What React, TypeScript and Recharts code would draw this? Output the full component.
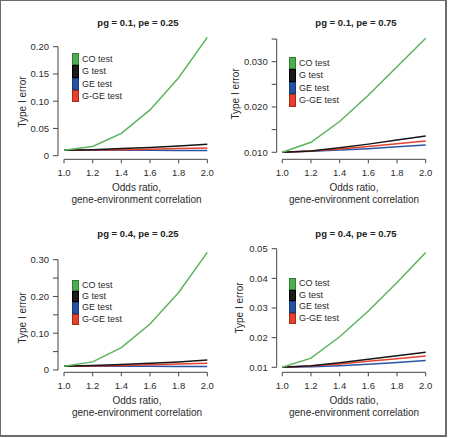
import { LineChart, Line, XAxis, YAxis, ReferenceLine, Legend } from 'recharts'

// Odds ratio / gene-environment correlation on the x axis
const ODDS = [1.0, 1.2, 1.4, 1.6, 1.8, 2.0]
const X_TICK_LABELS = ['1.0', '1.2', '1.4', '1.6', '1.8', '2.0']

// pg = 0.1, pe = 0.25
const CO_1 = [0.010, 0.017, 0.041, 0.084, 0.143, 0.217]
const G_1 = [0.010, 0.011, 0.013, 0.015, 0.018, 0.021]
const GE_1 = [0.010, 0.010, 0.010, 0.0098, 0.0096, 0.0095]
const GGE_1 = [0.010, 0.0105, 0.011, 0.012, 0.0133, 0.0143]
const Y_TICKS_1 = [0, 0.05, 0.1, 0.15, 0.2]
const Y_LABELS_1 = ['0', '0.05', '0.10', '0.15', '0.20']

// pg = 0.1, pe = 0.75
const CO_2 = [0.010, 0.0122, 0.0168, 0.0226, 0.0289, 0.0352]
const G_2 = [0.010, 0.0103, 0.0110, 0.0118, 0.0127, 0.0136]
const GE_2 = [0.010, 0.0102, 0.0105, 0.0108, 0.0112, 0.0116]
const GGE_2 = [0.010, 0.0103, 0.0107, 0.0113, 0.0119, 0.0125]
const Y_TICKS_2 = [0.01, 0.015, 0.02, 0.025, 0.03, 0.035]
const Y_LABELS_2 = ['0.010', '', '0.020', '', '0.030', '']

// pg = 0.4, pe = 0.25
const CO_3 = [0.010, 0.022, 0.061, 0.125, 0.211, 0.320]
const G_3 = [0.010, 0.012, 0.015, 0.018, 0.022, 0.027]
const GE_3 = [0.010, 0.010, 0.010, 0.010, 0.0098, 0.0097]
const GGE_3 = [0.010, 0.011, 0.012, 0.014, 0.016, 0.018]
const Y_TICKS_3 = [0, 0.05, 0.1, 0.15, 0.2, 0.25, 0.3]
const Y_LABELS_3 = ['0', '', '0.10', '', '0.20', '', '0.30']

// pg = 0.4, pe = 0.75
const CO_4 = [0.010, 0.0131, 0.0203, 0.0290, 0.0386, 0.0487]
const G_4 = [0.010, 0.0105, 0.0115, 0.0127, 0.0139, 0.0151]
const GE_4 = [0.010, 0.0102, 0.0105, 0.0110, 0.0116, 0.0123]
const GGE_4 = [0.010, 0.0104, 0.0111, 0.0120, 0.0129, 0.0138]
const Y_TICKS_4 = [0.01, 0.02, 0.03, 0.04, 0.05]
const Y_LABELS_4 = ['0.01', '0.02', '0.03', '0.04', '0.05']

const SERIES = [
  { key: 'co', name: 'CO test', color: '#5bb45e', box: '#4cae4f', edge: '#2e7d32' },
  { key: 'g', name: 'G test', color: '#161616', box: '#1b1b1b', edge: '#000000' },
  { key: 'ge', name: 'GE test', color: '#2a55a5', box: '#2452a0', edge: '#173a7a' },
  { key: 'gge', name: 'G-GE test', color: '#e4432f', box: '#e8402a', edge: '#a52a1a' },
]
// blue under red under black under green
const DRAW_ORDER = ['ge', 'gge', 'g', 'co']

const AXIS = '#454545'
const TEXT = '#2b2b2b'

const PANELS = [
  {
    title: 'pg = 0.1, pe = 0.25', co: CO_1, g: G_1, ge: GE_1, gge: GGE_1,
    yTicks: Y_TICKS_1, yLabels: Y_LABELS_1,
    left: 0, top: 0, width: 225, plotLeft: 58, plotRight: 207.3, xMin: 0.958,
    plotTop: 35.8, plotBottom: 159.3, yMin: -0.0066, yMax: 0.22,
    titleX: 138, titleY: 23, ylabX: 21.7, ylabY: 102, xlabX: 136.5,
    legendX: 72, legendY: 53, rowH: 12.3,
  },
  {
    title: 'pg = 0.1, pe = 0.75', co: CO_2, g: G_2, ge: GE_2, gge: GGE_2,
    yTicks: Y_TICKS_2, yLabels: Y_LABELS_2,
    left: 225, top: 0, width: 224, plotLeft: 51.7, plotRight: 200.7, xMin: 0.961,
    plotTop: 36.8, plotBottom: 159.3, yMin: 0.00845, yMax: 0.0355,
    titleX: 131, titleY: 23, ylabX: 10, ylabY: 93.5, xlabX: 129,
    legendX: 64, legendY: 57, rowH: 12.4,
  },
  {
    title: 'pg = 0.4, pe = 0.25', co: CO_3, g: G_3, ge: GE_3, gge: GGE_3,
    yTicks: Y_TICKS_3, yLabels: Y_LABELS_3,
    left: 0, top: 218, width: 225, plotLeft: 58, plotRight: 207.3, xMin: 0.958,
    plotTop: 32.5, plotBottom: 154.3, yMin: -0.0063, yMax: 0.325,
    titleX: 138, titleY: 15.7, ylabX: 21.7, ylabY: 100, xlabX: 137,
    legendX: 72, legendY: 61.7, rowH: 11.3,
  },
  {
    title: 'pg = 0.4, pe = 0.75', co: CO_4, g: G_4, ge: GE_4, gge: GGE_4,
    yTicks: Y_TICKS_4, yLabels: Y_LABELS_4,
    left: 225, top: 218, width: 224, plotLeft: 51.7, plotRight: 200.7, xMin: 0.961,
    plotTop: 30.7, plotBottom: 154.3, yMin: 0.00831, yMax: 0.05,
    titleX: 131, titleY: 15.7, ylabX: 13.5, ylabY: 90, xlabX: 129,
    legendX: 64, legendY: 60, rowH: 11.5,
  },
]

type Panel = (typeof PANELS)[number]

function LegendBox({ payload, rowH }: { payload?: any[]; rowH: number }) {
  const items = SERIES.filter(s => (payload ?? []).some(p => p.value === s.name))
  return (
    <div style={{ fontSize: 9, color: TEXT, lineHeight: `${rowH}px` }}>
      {items.map(s => (
        <div key={s.key} style={{ display: 'flex', alignItems: 'center', height: rowH }}>
          <span
            style={{
              display: 'inline-block',
              width: 7,
              height: rowH,
              boxSizing: 'border-box',
              background: s.box,
              border: `1px solid ${s.edge}`,
            }}
          />
          <span style={{ marginLeft: 3, whiteSpace: 'nowrap' }}>{s.name}</span>
        </div>
      ))}
    </div>
  )
}

function ErrorPanel({ p }: { p: Panel }) {
  const data = ODDS.map((x, i) => ({ x, co: p.co[i], g: p.g[i], ge: p.ge[i], gge: p.gge[i] }))
  const height = 218
  const yTop = p.yTicks[p.yTicks.length - 1]
  const tickStyle = { fill: TEXT, fontSize: 9.5 }

  return (
    <div style={{ position: 'absolute', left: p.left, top: p.top, width: p.width, height }}>
      <div
        style={{
          position: 'absolute', left: p.titleX - 80, top: p.titleY - 6, width: 160,
          textAlign: 'center', fontSize: 9.5, fontWeight: 700, lineHeight: '12px', color: '#222',
        }}
      >
        {p.title}
      </div>
      <div
        style={{
          position: 'absolute', left: p.ylabX, top: p.ylabY, fontSize: 10, color: TEXT,
          whiteSpace: 'nowrap', transform: 'translate(-50%, -50%) rotate(-90deg)',
        }}
      >
        Type I error
      </div>
      <div
        style={{
          position: 'absolute', left: p.xlabX - 80, top: p.plotBottom + 22.5, width: 160,
          textAlign: 'center', fontSize: 10, lineHeight: '12.3px', color: TEXT,
        }}
      >
        Odds ratio,
        <br />
        gene-environment correlation
      </div>
      <LineChart
        width={p.width}
        height={height}
        data={data}
        margin={{ top: p.plotTop, right: p.width - p.plotRight, bottom: 0, left: 0 }}
        style={{ position: 'absolute', left: 0, top: 0 }}
      >
        <XAxis
          type="number"
          dataKey="x"
          domain={[p.xMin, 2]}
          ticks={ODDS}
          tickFormatter={v => X_TICK_LABELS[ODDS.indexOf(v)] ?? ''}
          height={height - p.plotBottom}
          axisLine={false}
          tickLine={{ stroke: AXIS }}
          tickSize={4}
          tickMargin={6}
          tick={tickStyle}
          interval={0}
        />
        <YAxis
          type="number"
          domain={[p.yMin, p.yMax]}
          ticks={p.yTicks}
          tickFormatter={v => p.yLabels[p.yTicks.indexOf(v)] ?? ''}
          width={p.plotLeft}
          axisLine={false}
          tickLine={{ stroke: AXIS }}
          tickSize={5}
          tickMargin={4}
          tick={tickStyle}
          interval={0}
        />
        {/* detached R-style axis lines */}
        <ReferenceLine segment={[{ x: 1, y: p.yMin }, { x: 2, y: p.yMin }]} stroke={AXIS} strokeWidth={1} />
        <ReferenceLine segment={[{ x: p.xMin, y: p.yTicks[0] }, { x: p.xMin, y: yTop }]} stroke={AXIS} strokeWidth={1} />
        {DRAW_ORDER.map(k => {
          const s = SERIES.find(x => x.key === k)!
          return (
            <Line
              key={k}
              type="linear"
              dataKey={k}
              name={s.name}
              stroke={s.color}
              strokeWidth={1.5}
              dot={false}
              isAnimationActive={false}
            />
          )
        })}
        <Legend
          layout="vertical"
          align="center"
          verticalAlign="middle"
          wrapperStyle={{ left: p.legendX, top: p.legendY, width: 'auto', height: 'auto' }}
          content={(props: any) => <LegendBox payload={props.payload} rowH={p.rowH} />}
        />
      </LineChart>
    </div>
  )
}

export default function App() {
  return (
    <div
      style={{
        position: 'fixed', left: 0, top: 0, width: 449, height: 438, background: '#fff',
        fontFamily: '"Liberation Sans", Arial, sans-serif',
      }}
    >
      <div
        style={{
          position: 'absolute', left: 0, top: 0, width: 447, height: 437, boxSizing: 'border-box',
          borderTop: '1.5px solid #6b6b6b', borderLeft: '1.5px solid #6b6b6b',
          borderRight: '2px solid #6b6b6b', borderBottom: '2px solid #6b6b6b',
        }}
      />
      {PANELS.map(p => (
        <ErrorPanel key={p.title} p={p} />
      ))}
    </div>
  )
}
